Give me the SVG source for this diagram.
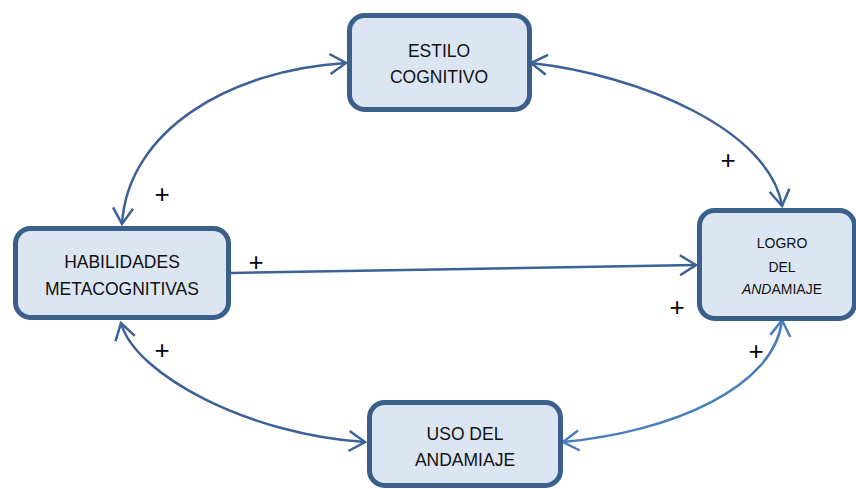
<svg xmlns="http://www.w3.org/2000/svg" width="856" height="489" viewBox="0 0 856 489">
<style>
.box{fill:#DCE6F2;stroke:#3A5F8B;stroke-width:5}
.t{font-family:"Liberation Sans",Arial,sans-serif;font-size:17.5px;fill:#111;text-anchor:middle}
.ts{font-family:"Liberation Sans",Arial,sans-serif;font-size:14px;fill:#111;text-anchor:middle}
.c{fill:none;stroke:#3B6196;stroke-width:2.5}
.c2{fill:none;stroke:#4A7EBB;stroke-width:2.5}
.p{font-family:"Liberation Sans",Arial,sans-serif;font-size:26px;fill:#000;text-anchor:middle}
</style>
<defs>
<marker id="a" viewBox="0 0 20 24" refX="18" refY="12" markerWidth="20" markerHeight="24" markerUnits="userSpaceOnUse" orient="auto-start-reverse">
<path d="M2,2 L18,12 L2,22" fill="none" stroke="#3B6196" stroke-width="2.5"/>
</marker>
<marker id="b" viewBox="0 0 20 24" refX="18" refY="12" markerWidth="20" markerHeight="24" markerUnits="userSpaceOnUse" orient="auto-start-reverse">
<path d="M2,2 L18,12 L2,22" fill="none" stroke="#4A7EBB" stroke-width="2.5"/>
</marker>
</defs>
<g id="connectors">
<path class="c" d="M122,224 C128,130 230,70 346,63" marker-start="url(#a)" marker-end="url(#a)"/>
<path class="c" d="M531,63 C640,75 770,130 782,206" marker-start="url(#a)" marker-end="url(#a)"/>
<path class="c" d="M231,273 L696,265" marker-end="url(#a)"/>
<path class="c" d="M121,323 C135,375 250,435 365,442" marker-start="url(#a)" marker-end="url(#a)"/>
<path class="c2" d="M563,442 C672,432 775,387 782,320" marker-start="url(#b)" marker-end="url(#b)"/>
</g>
<g id="estilo">
<rect class="box" x="349.5" y="15.5" width="180" height="94" rx="15"/>
<text class="t" x="439" y="57">ESTILO</text>
<text class="t" x="439" y="83">COGNITIVO</text>
</g>
<g id="logro">
<rect class="box" x="699.5" y="210.5" width="155" height="108" rx="15"/>
<text class="ts" x="782" y="248">LOGRO</text>
<text class="ts" x="782" y="272">DEL</text>
<text class="ts" x="782" y="294"><tspan font-style="italic">AND</tspan>AMIAJE</text>
</g>
<g id="habilidades">
<rect class="box" x="15.5" y="228.5" width="213" height="89" rx="15"/>
<text class="t" x="122" y="268">HABILIDADES</text>
<text class="t" x="122" y="295">METACOGNITIVAS</text>
</g>
<g id="uso">
<rect class="box" x="369.5" y="402.5" width="191" height="83" rx="15"/>
<text class="t" x="465" y="440">USO DEL</text>
<text class="t" x="465" y="466">ANDAMIAJE</text>
</g>
<g id="plus">
<text class="p" x="162" y="203">+</text>
<text class="p" x="728" y="169">+</text>
<text class="p" x="256" y="271">+</text>
<text class="p" x="677" y="316">+</text>
<text class="p" x="162" y="359">+</text>
<text class="p" x="756" y="360">+</text>
</g>
</svg>
